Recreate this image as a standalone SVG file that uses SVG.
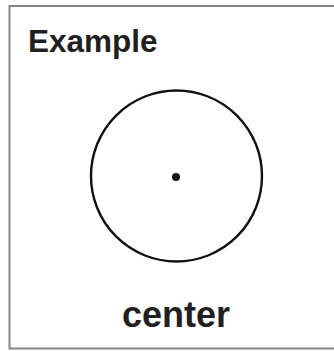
<svg xmlns="http://www.w3.org/2000/svg" width="334" height="351" viewBox="0 0 334 351">
<style>
.t{font-family:"Liberation Sans",Arial,sans-serif;font-weight:bold;fill:#231f20}
</style>
<rect width="334" height="351" fill="#fff"/>
<path d="M340 6 H9.5 V348.5 H340" fill="none" stroke="#8a8585" stroke-width="2"/>
<text class="t" x="28" y="52" font-size="31.5">Example</text>
<g id="circle">
<circle cx="176.5" cy="176" r="85.5" fill="none" stroke="#111" stroke-width="2.4"/>
<circle cx="176" cy="177" r="4" fill="#111"/>
</g>
<text class="t" x="176" y="327" font-size="36" text-anchor="middle">center</text>
</svg>
